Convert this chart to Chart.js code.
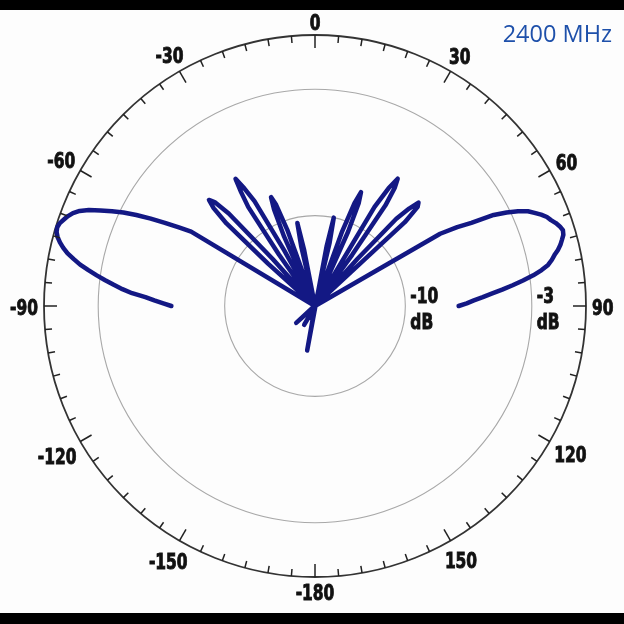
<!DOCTYPE html>
<html>
<head>
<meta charset="utf-8">
<script src="https://cdn.jsdelivr.net/npm/chart.js@4.4.1/dist/chart.umd.min.js"></script>
<style>
    html, body {
        margin: 0;
        padding: 0;
        background: #000;
    }
    .frame {
        position: relative;
        width: 624px;
        height: 624px;
        overflow: hidden;
    }
    .paper {
        position: absolute;
        left: 0;
        top: 10px;
        width: 624px;
        height: 603px;
        background: #fdfdfd;
    }
    #pattern {
        position: absolute;
        left: 0;
        top: 0;
    }
    .freq {
        position: absolute;
        right: 12px;
        top: 17px;
        font: 23.5px 'Open Sans', sans-serif;
        color: #1e50aa;
    }
</style>
</head>
<body>
<div class="frame">
    <div class="paper"></div>
    <canvas id="pattern" width="624" height="624"></canvas>
    <div class="freq">2400 MHz</div>
</div>

<script>
    // gain in dB, one value per degree, from -90 to +90
    const firstAngle = -90;
    const gainDb = [
        -7.05, -6.6, -6.1, -5.6, -4.85, -4.3, -3.8, -3.3, -2.8, -2.3,     // -90
        -1.8, -1.4, -1.0, -0.7, -0.45, -0.25, -0.12, -0.08, -0.15, -0.3,  // -80
        -0.45, -0.65, -0.95, -1.4, -2.0, -2.6, -3.2, -3.9, -4.7, -5.5,    // -70
        -6.3, -7.0, -15, -15, -15, -15, -15, -15, -15, -15,               // -60
        -15, -15, -11.5, -8.3, -7.2, -6.7, -7.0, -8.0, -11.5, -15,        // -50
        -15, -15, -15, -15, -15, -11.5, -8.4, -7.5, -6.7, -7.4,           // -40
        -8.3, -11.5, -15, -15, -15, -15, -10.8, -9.2, -8.5, -9.0,         // -30
        -10.5, -15, -15, -15, -15, -15, -15, -11.6, -10.3, -11.8,         // -20
        -15, -15, -15, -15, -15, -15, -15, -15, -15, -15,                 // -10
        -15, -15, -15, -15, -15, -15, -15, -15, -15, -15,                 // 0
        -17.5, -11.6, -10, -11.4, -15.7, -15, -15, -15, -15, -15,         // 10
        -10.6, -8.9, -8.2, -8.8, -10.5, -15, -15, -15, -15, -15,          // 20
        -16.2, -8.6, -7.3, -6.6, -7.1, -8.2, -11.5, -15, -15, -15,        // 30
        -15, -15, -11.5, -8.4, -7.5, -6.9, -7.1, -8.2, -16.4, -15,        // 40
        -15, -15, -15, -15, -15, -15, -15, -15, -15, -15,                 // 50
        -7.0, -6.0, -5.2, -3.9, -3.2, -2.6, -2.1, -1.8, -1.5, -1.25,      // 60
        -1.1, -0.9, -0.75, -0.65, -0.7, -0.85, -1.0, -1.2, -1.45, -1.65,  // 70
        -1.9, -2.3, -2.8, -3.4, -4.0, -4.6, -5.2, -5.7, -6.2, -6.6,       // 80
        -7.05                                                             // 90
    ];

    const angleLabels = [0, 30, 60, 90, 120, 150, -180, -150, -120, -90, -60, -30];
    const ringValues = [-10, -3];
    const ringUnit = 'dB';
    const scaleMin = -15;
    const scaleMax = 0;

    // one category per degree, clockwise from the top
    const degrees = [];
    const values = [];
    for (let i = 0; i < 360; i++) {
        const deg = i < 180 ? i : i - 360;
        degrees.push(deg);
        const k = deg - firstAngle;
        values.push(k >= 0 && k < gainDb.length ? gainDb[k] : null);
    }

    const labelFont = "bold 22px 'DejaVu Sans Condensed', 'DejaVu Sans', sans-serif";
    const squeeze = 0.78;   // narrow the bold face to look like a condensed one

    function narrowText(c, text, x, y) {
        c.save();
        c.translate(x, y);
        c.scale(squeeze, 1);
        c.strokeText(text, 0, 0);
        c.fillText(text, 0, 0);
        c.restore();
    }

    const rimPlugin = {
        id: 'rim',
        afterDraw(chart) {
            const scale = chart.scales.r;
            const c = chart.ctx;
            const R = scale.drawingArea;
            c.save();

            // ticks every 5 degrees, longer every 30
            c.strokeStyle = '#222';
            c.lineWidth = 1.5;
            for (let i = 0; i < 360; i += 5) {
                const len = i % 30 === 0 ? 13 : 7;
                const a = scale.getPointPosition(i, R);
                const b = scale.getPointPosition(i, R - len);
                c.beginPath();
                c.moveTo(a.x, a.y);
                c.lineTo(b.x, b.y);
                c.stroke();
            }

            // angle labels
            c.font = labelFont;
            c.fillStyle = '#111';
            c.strokeStyle = '#111';
            c.lineWidth = 0.9;
            c.textAlign = 'center';
            c.textBaseline = 'middle';
            angleLabels.forEach(deg => {
                const idx = deg >= 0 ? deg : deg + 360;
                const ang = scale.getIndexAngle(idx);
                const w = c.measureText(String(deg)).width * squeeze;
                const h = 16;
                const dist = R + 6 + Math.abs(Math.sin(ang)) * w / 2 + Math.abs(Math.cos(ang)) * h / 2;
                const p = scale.getPointPosition(idx, dist);
                narrowText(c, String(deg), p.x, p.y + 3);
            });

            // ring labels
            c.textAlign = 'left';
            ringValues.forEach(v => {
                const d = scale.getDistanceFromCenterForValue(v);
                const x = scale.xCenter + d + 5;
                narrowText(c, String(v), x, scale.yCenter - 9);
                narrowText(c, ringUnit, x, scale.yCenter + 17);
            });
            c.restore();
        }
    };

    const ctx = document.getElementById('pattern').getContext('2d');
    const patternChart = new Chart(ctx, {
        type: 'radar',
        data: {
            labels: degrees,
            datasets: [{
                data: values,
                borderColor: '#131884',
                borderWidth: 4.5,
                borderJoinStyle: 'round',
                borderCapStyle: 'round',
                pointRadius: 0,
                pointHoverRadius: 0,
                fill: false,
                spanGaps: false,
                tension: 0
            }]
        },
        options: {
            responsive: false,
            animation: false,
            devicePixelRatio: 1,
            layout: {
                padding: { left: 44, right: 38, top: 35, bottom: 47 }
            },
            plugins: {
                legend: { display: false },
                tooltip: { enabled: false }
            },
            scales: {
                r: {
                    min: scaleMin,
                    max: scaleMax,
                    angleLines: { display: false },
                    pointLabels: { display: false },
                    ticks: { display: false },
                    afterBuildTicks: s => {
                        s.ticks = [scaleMin, ...ringValues, scaleMax].map(v => ({ value: v }));
                    },
                    grid: {
                        circular: true,
                        color: c => c.tick.value === scaleMax ? '#333' : (c.tick.value === scaleMin ? 'rgba(0,0,0,0)' : '#a8a8a8'),
                        lineWidth: c => c.tick.value === scaleMax ? 1.8 : 1.1
                    }
                }
            }
        },
        plugins: [rimPlugin]
    });
</script>
</body>
</html>
